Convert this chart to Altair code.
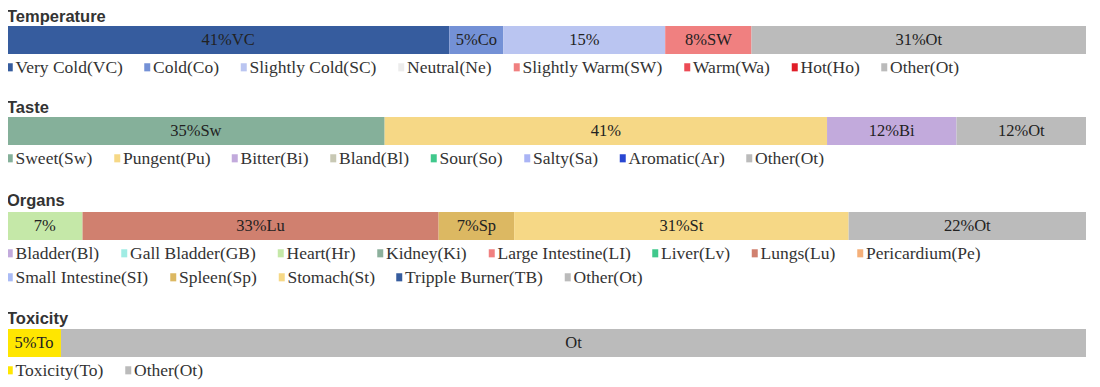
import altair as alt
import pandas as pd

# ---- data ----
temp_cats = ["Very Cold(VC)", "Cold(Co)", "Slightly Cold(SC)", "Neutral(Ne)",
             "Slightly Warm(SW)", "Warm(Wa)", "Hot(Ho)", "Other(Ot)"]
temp_colors = ["#365c9e", "#7491d6", "#bac5f1", "#ececec", "#f08080", "#ec4b55", "#e01e28", "#bbbbbb"]
temp_values = [41, 5, 15, 0, 8, 0, 0, 31]
temp_labels = ["41%VC", "5%Co", "15%", "", "8%SW", "", "", "31%Ot"]

taste_cats = ["Sweet(Sw)", "Pungent(Pu)", "Bitter(Bi)", "Bland(Bl)", "Sour(So)",
              "Salty(Sa)", "Aromatic(Ar)", "Other(Ot)"]
taste_colors = ["#85b09a", "#f6d886", "#c2aadc", "#c8c8b4", "#40c88c", "#aab4f5", "#2846d2", "#bbbbbb"]
taste_values = [35, 41, 12, 0, 0, 0, 0, 12]
taste_labels = ["35%Sw", "41%", "12%Bi", "", "", "", "", "12%Ot"]

organ_cats = ["Bladder(Bl)", "Gall Bladder(GB)", "Heart(Hr)", "Kidney(Ki)", "Large Intestine(LI)",
              "Liver(Lv)", "Lungs(Lu)", "Pericardium(Pe)", "Small Intestine(SI)", "Spleen(Sp)",
              "Stomach(St)", "Tripple Burner(TB)", "Other(Ot)"]
organ_colors = ["#c2aadc", "#a0ece4", "#c5e8a8", "#8cb09c", "#f08080", "#40c88c", "#d0806f",
                "#f5b07a", "#aabbf5", "#dcb862", "#f6d886", "#365c9e", "#bbbbbb"]
organ_values = [0, 0, 7, 0, 0, 0, 33, 0, 0, 7, 31, 0, 22]
organ_labels = ["", "", "7%", "", "", "", "33%Lu", "", "", "7%Sp", "31%St", "", "22%Ot"]

tox_cats = ["Toxicity(To)", "Other(Ot)"]
tox_colors = ["#ffe600", "#bbbbbb"]
tox_values = [5, 95]
tox_labels = ["5%To", "Ot"]

SERIF = "Liberation Serif"
BAR_H = 28


def legend(**kw):
    return alt.Legend(
        title=None, direction="horizontal",
        symbolType="M-1,-1.5H1V1.2H-1Z", symbolSize=36, symbolStrokeWidth=0,
        symbolOffset={"expr": "-6"},
        labelFont=SERIF, labelFontSize=17.5, labelColor="#333333",
        columnPadding=20.5, rowPadding=6, gridAlign="none",
        labelOffset={"expr": "-3"}, padding=0, labelLimit=0, **kw
    )


def section(title, cats, colors, values, labels, split=None, title_offset=1):
    df = pd.DataFrame({"cat": cats, "value": values, "label": labels,
                       "idx": list(range(len(cats)))})
    df = df[df["value"] > 0]
    base = alt.Chart(df).transform_stack(
        stack="value", groupby=[], as_=["x0", "x1"], sort=[alt.SortField("idx")]
    ).transform_calculate(mid="(datum.x0 + datum.x1) / 2")
    xs = alt.Scale(domain=[0, 100], nice=False, zero=True)

    groups = [(cats, colors, legend(orient="bottom", offset=5))]
    if split is not None:
        groups = [
            (cats[:split], colors[:split], legend(orient="bottom", offset=5)),
            (cats[split:], colors[split:], legend(orient="none", legendX=0, legendY=BAR_H + 5 + 24)),
        ]
    layers = []
    for gcats, gcolors, leg in groups:
        layers.append(
            base.transform_filter(alt.FieldOneOfPredicate(field="cat", oneOf=gcats))
            .mark_bar(height=BAR_H)
            .encode(
                x=alt.X("x0:Q", scale=xs, axis=None),
                x2="x1:Q",
                color=alt.Color("cat:N", scale=alt.Scale(domain=gcats, range=gcolors), legend=leg),
            )
        )
    text = base.mark_text(font=SERIF, fontSize=16.5, color="#222222", baseline="middle").encode(
        x=alt.X("mid:Q", scale=xs, axis=None),
        text="label:N",
    )
    layers.append(text)
    ch = alt.layer(*layers).properties(
        width=1079, height=BAR_H,
        title=alt.TitleParams(title, anchor="start", font="Liberation Sans", fontSize=16.5,
                              fontWeight="bold", color="#333333", offset=title_offset),
    )
    if split is not None:
        ch = ch.resolve_scale(color="independent")
    return ch


s_temp = section("Temperature", temp_cats, temp_colors, temp_values, temp_labels)
s_taste = section("Taste", taste_cats, taste_colors, taste_values, taste_labels)
s_org = section("Organs", organ_cats, organ_colors, organ_values, organ_labels, split=8, title_offset=3)
s_tox = section("Toxicity", tox_cats, tox_colors, tox_values, tox_labels, title_offset=2)

lower = alt.vconcat(s_org, s_tox, spacing=23).resolve_scale(color="independent")
middle = alt.vconcat(s_taste, lower, spacing=24).resolve_scale(color="independent")

chart = alt.vconcat(s_temp, middle, spacing=22).resolve_scale(
    color="independent"
).configure_view(stroke=None).properties(
    padding={"left": -1, "top": 0, "right": 0, "bottom": 0}
)

chart.save("out.html", embed_options={"renderer": "svg", "actions": False})
